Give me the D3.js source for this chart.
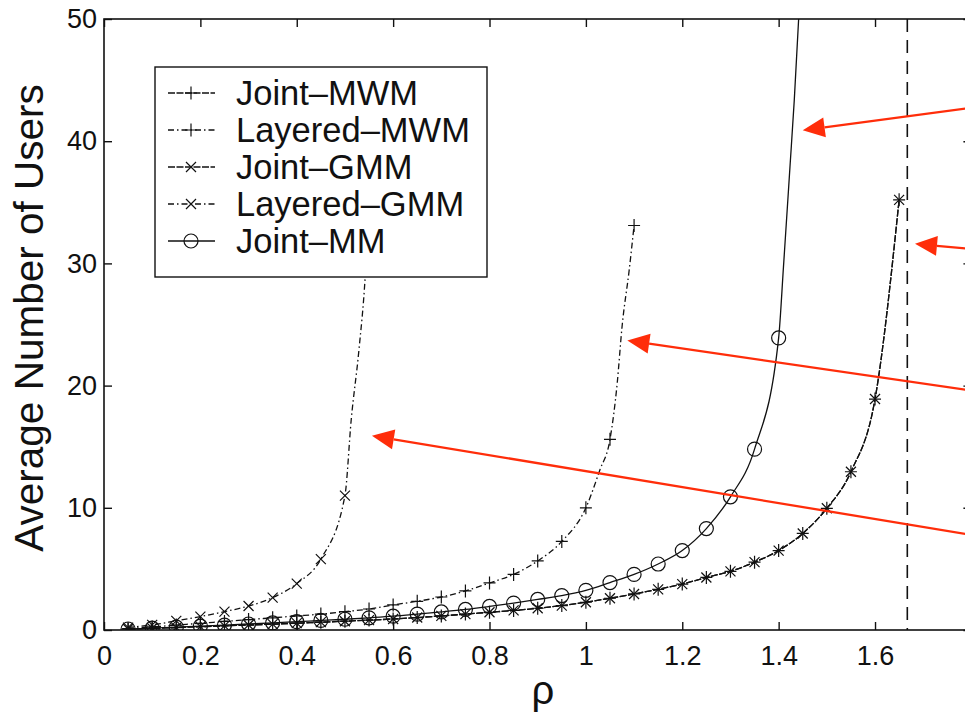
<!DOCTYPE html>
<html>
<head>
<meta charset="utf-8">
<script src="https://cdn.jsdelivr.net/npm/d3@7"></script>
<style>
  body { margin: 0; background: #fff; }
  svg { display: block; }
  text { font-family: "Liberation Sans", Arial, Helvetica, sans-serif; fill: #111; }
</style>
</head>
<body>
<svg id="chart"></svg>
<script>
// marker positions (rho), shared by all series
const rho = [0.05, 0.10, 0.15, 0.20, 0.25, 0.30, 0.35, 0.40, 0.45, 0.50, 0.55,
             0.60, 0.65, 0.70, 0.75, 0.80, 0.85, 0.90, 0.95, 1.00, 1.05, 1.10,
             1.15, 1.20, 1.25, 1.30, 1.35, 1.40, 1.45, 1.50, 1.55, 1.60, 1.65];

const jointMWM   = [0.07, 0.14, 0.20, 0.27, 0.34, 0.41, 0.48, 0.56, 0.64, 0.72, 0.81,
                    0.90, 1.02, 1.15, 1.30, 1.45, 1.60, 1.78, 2.00, 2.27, 2.60, 2.95,
                    3.33, 3.76, 4.30, 4.80, 5.55, 6.50, 7.90, 9.96, 12.95, 18.9, 35.2];
const layeredMWM = [0.12, 0.25, 0.40, 0.55, 0.70, 0.85, 1.00, 1.15, 1.30, 1.50, 1.72,
                    2.05, 2.35, 2.70, 3.20, 3.85, 4.55, 5.65, 7.25, 10.0, 15.6, 33.1];
const jointGMM   = [0.07, 0.14, 0.20, 0.27, 0.34, 0.41, 0.48, 0.56, 0.64, 0.72, 0.81,
                    0.90, 1.02, 1.15, 1.30, 1.45, 1.60, 1.78, 2.00, 2.27, 2.60, 2.95,
                    3.33, 3.76, 4.30, 4.80, 5.55, 6.50, 7.90, 9.96, 12.95, 18.9, 35.2];
const layeredGMM = [0.20, 0.42, 0.75, 1.10, 1.50, 1.96, 2.65, 3.80, 5.80, 11.0, 35.0];
const jointMM    = [0.08, 0.16, 0.24, 0.32, 0.40, 0.49, 0.58, 0.68, 0.78, 0.88, 1.00,
                    1.13, 1.30, 1.48, 1.68, 1.93, 2.20, 2.50, 2.82, 3.25, 3.88, 4.55,
                    5.40, 6.50, 8.30, 10.9, 14.8, 23.9];

// extra points read off the steep parts of the lines (no markers there)
const layeredMWMTrace = [[1.029, 13.1], [1.065, 20.2], [1.075, 24.8], [1.09, 29.5]];
const layeredGMMTrace = [[0.513, 17.2], [0.529, 22.9], [0.542, 28.9]];
const jointMMTrace    = [[1.41, 29.7], [1.4235, 37.9], [1.4325, 43.4], [1.4415, 50], [1.45, 58]];

const seriesNames = ["Joint\u2013MWM", "Layered\u2013MWM", "Joint\u2013GMM", "Layered\u2013GMM", "Joint\u2013MM"];
const boundRho = [1.667];

// arrows: [tipRho, tipValue, tailRho, tailValue]
const arrows = [
  [1.450, 40.9, 1.85, 43.0],
  [1.683, 31.6, 1.85, 31.0],
  [1.086, 23.7, 1.85, 19.3],
  [0.556, 15.9, 1.85, 7.45]
];

const xTicks = [0, 0.2, 0.4, 0.6, 0.8, 1, 1.2, 1.4, 1.6, 1.8];
const yTicks = [0, 10, 20, 30, 40, 50];

const width = 965, height = 715;
const pLeft = 104, pRight = 971.4, pTop = 19, pBottom = 630;
const ink = "#111";

const svg = d3.select("#chart").attr("width", width).attr("height", height);

const x = d3.scaleLinear().domain([0, 1.8]).range([pLeft, pRight]);
const y = d3.scaleLinear().domain([0, 50]).range([pBottom, pTop]);

svg.append("defs").append("clipPath").attr("id", "plot")
  .append("rect")
  .attr("x", pLeft).attr("y", pTop)
  .attr("width", pRight - pLeft).attr("height", pBottom - pTop);

// axes, ticks inside
const fmt = d3.format("~g");
svg.append("g").attr("transform", `translate(0,${pBottom})`)
  .call(d3.axisBottom(x).tickValues(xTicks).tickSize(-8).tickSizeOuter(0).tickPadding(16)
    .tickFormat(d => d > 1.7 ? "" : fmt(d)));
svg.append("g").attr("transform", `translate(${pLeft},0)`)
  .call(d3.axisLeft(y).tickValues(yTicks).tickSize(-8).tickSizeOuter(0).tickPadding(7));
svg.append("g").attr("transform", `translate(0,${pTop})`)
  .call(d3.axisTop(x).tickValues(xTicks).tickSize(-8).tickSizeOuter(0).tickFormat(""));
svg.append("g").attr("transform", `translate(${pRight},0)`)
  .call(d3.axisRight(y).tickValues(yTicks).tickSize(-8).tickSizeOuter(0).tickFormat(""));

svg.selectAll(".domain").remove();
svg.selectAll(".tick line").attr("stroke", ink).attr("stroke-width", 1.4);
svg.selectAll(".tick text").attr("font-size", 27).attr("fill", ink)
  .attr("font-family", "'Liberation Sans', Arial, Helvetica, sans-serif");

svg.append("rect")
  .attr("x", pLeft).attr("y", pTop)
  .attr("width", pRight - pLeft).attr("height", pBottom - pTop)
  .attr("fill", "none").attr("stroke", ink).attr("stroke-width", 1.6);

// axis titles
svg.append("text")
  .attr("transform", "translate(43,318) rotate(-90)")
  .attr("text-anchor", "middle")
  .attr("font-size", 40.5)
  .text("Average Number of Users");
svg.append("text")
  .attr("x", 543).attr("y", 704)
  .attr("text-anchor", "middle")
  .attr("font-size", 40)
  .text("\u03c1");

// series
const markerPath = {
  plus: "M-6,0H6M0,-6.5V6.5",
  cross: "M-5,-5L5,5M-5,5L5,-5"
};

const series = [
  { name: seriesNames[0], values: jointMWM,   trace: [],              dash: "7,1.5",     marker: "plus" },
  { name: seriesNames[1], values: layeredMWM, trace: layeredMWMTrace, dash: "6,3,1.5,3", marker: "plus" },
  { name: seriesNames[2], values: jointGMM,   trace: [],              dash: "7,1.5",     marker: "cross" },
  { name: seriesNames[3], values: layeredGMM, trace: layeredGMMTrace, dash: "6,3,1.5,3", marker: "cross" },
  { name: seriesNames[4], values: jointMM,    trace: jointMMTrace,    dash: null,        marker: "circle" }
];

const line = d3.line()
  .x(d => x(d[0]))
  .y(d => y(d[1]))
  .curve(d3.curveMonotoneX);

const plot = svg.append("g").attr("clip-path", "url(#plot)");

function drawMarker(g, type) {
  if (type === "circle") {
    g.append("circle").attr("r", 7).attr("fill", "none")
      .attr("stroke", ink).attr("stroke-width", 1.2);
  } else {
    g.append("path").attr("d", markerPath[type]).attr("fill", "none")
      .attr("stroke", ink).attr("stroke-width", 1.2);
  }
}

series.forEach(s => {
  const marks = s.values.map((v, i) => [rho[i], v]);
  const pts = marks.concat(s.trace).sort((a, b) => a[0] - b[0]);

  plot.append("path")
    .datum(pts)
    .attr("d", line)
    .attr("fill", "none")
    .attr("stroke", ink)
    .attr("stroke-width", 1.3)
    .attr("stroke-dasharray", s.dash);

  plot.selectAll(null)
    .data(marks)
    .enter().append("g")
    .attr("transform", d => `translate(${x(d[0])},${y(d[1])})`)
    .each(function() { drawMarker(d3.select(this), s.marker); });
});

// bound line
plot.selectAll(null)
  .data(boundRho)
  .enter().append("line")
  .attr("x1", d => x(d)).attr("x2", d => x(d))
  .attr("y1", pTop).attr("y2", pBottom)
  .attr("stroke", ink).attr("stroke-width", 1.6)
  .attr("stroke-dasharray", "13,8");

// legend
const lg = svg.append("g");
lg.append("rect")
  .attr("x", 155).attr("y", 67)
  .attr("width", 332).attr("height", 210)
  .attr("fill", "#fff").attr("stroke", ink).attr("stroke-width", 1.4);

const rows = lg.selectAll(".row")
  .data(series)
  .enter().append("g")
  .attr("transform", (d, i) => `translate(0,${93 + i * 37})`);

rows.append("line")
  .attr("x1", 168).attr("x2", 215)
  .attr("stroke", ink).attr("stroke-width", 1.3)
  .attr("stroke-dasharray", d => d.dash);
rows.append("g")
  .attr("transform", "translate(191,0)")
  .each(function(d) { drawMarker(d3.select(this), d.marker); });
rows.append("text")
  .attr("x", 236).attr("dy", "0.35em")
  .attr("font-size", 34.5)
  .text(d => d.name);

// red arrows
const red = "#ff2d0a";
arrows.forEach(a => {
  const tx = x(a[0]), ty = y(a[1]), qx = x(a[2]), qy = y(a[3]);
  const len = Math.hypot(tx - qx, ty - qy);
  const ux = (tx - qx) / len, uy = (ty - qy) / len;
  const hl = 22, hw = 10;
  const bx = tx - ux * hl, by = ty - uy * hl;
  svg.append("line")
    .attr("x1", qx).attr("y1", qy).attr("x2", bx).attr("y2", by)
    .attr("stroke", red).attr("stroke-width", 2.3);
  svg.append("path")
    .attr("d", `M${tx},${ty}L${bx - uy * hw},${by + ux * hw}L${bx + uy * hw},${by - ux * hw}Z`)
    .attr("fill", red);
});
</script>
</body>
</html>
